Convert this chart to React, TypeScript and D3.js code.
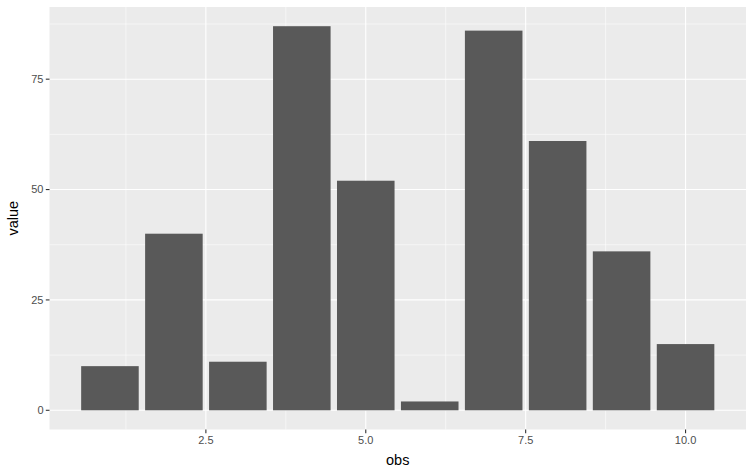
import React from "react";
import * as d3 from "d3";

const obs = [1, 2, 3, 4, 5, 6, 7, 8, 9, 10];
const values = [10, 40, 11, 87, 52, 2, 86, 61, 36, 15];
const xTicks = [2.5, 5.0, 7.5, 10.0];
const xMinor = [1.25, 3.75, 6.25, 8.75];
const yTicks = [0, 25, 50, 75];
const yMinor = [12.5, 37.5, 62.5, 87.5];

export default function App() {
  const W = 753, H = 469;
  const left = 49.5, right = 746, top = 7, bottom = 429.5;
  const barW = 0.9;
  const xlo = 1 - barW / 2, xhi = 10 + barW / 2;
  const xpad = (xhi - xlo) * 0.05;
  const x = d3.scaleLinear().domain([xlo - xpad, xhi + xpad]).range([left, right]);
  const ymax = d3.max(values) as number;
  const ypad = ymax * 0.05;
  const y = d3.scaleLinear().domain([-ypad, ymax + ypad]).range([bottom, top]);
  const font = "'Liberation Sans', Arial, Helvetica, sans-serif";
  return (
    <svg width={W} height={H} style={{ position: "absolute", left: 0, top: 0, background: "#fff" }}>
      <rect x={left} y={top} width={right - left} height={bottom - top} fill="#EBEBEB" />
      {yMinor.map((t) => (
        <line key={"ym" + t} x1={left} x2={right} y1={y(t)} y2={y(t)} stroke="#fff" strokeWidth={0.55} />
      ))}
      {xMinor.map((t) => (
        <line key={"xm" + t} y1={top} y2={bottom} x1={x(t)} x2={x(t)} stroke="#fff" strokeWidth={0.55} />
      ))}
      {yTicks.map((t) => (
        <line key={"yM" + t} x1={left} x2={right} y1={y(t)} y2={y(t)} stroke="#fff" strokeWidth={1.1} />
      ))}
      {xTicks.map((t) => (
        <line key={"xM" + t} y1={top} y2={bottom} x1={x(t)} x2={x(t)} stroke="#fff" strokeWidth={1.1} />
      ))}
      {obs.map((o, i) => (
        <rect
          key={"b" + o}
          x={x(o - barW / 2)}
          width={x(o + barW / 2) - x(o - barW / 2)}
          y={y(values[i])}
          height={y(0) - y(values[i])}
          fill="#595959"
        />
      ))}
      {yTicks.map((t) => (
        <g key={"yt" + t}>
          <line x1={left - 3.7} x2={left} y1={y(t)} y2={y(t)} stroke="#333" strokeWidth={1.1} />
          <text x={left - 6} y={y(t)} dy="0.35em" textAnchor="end" fontSize={11} fill="#4D4D4D" fontFamily={font}>
            {t}
          </text>
        </g>
      ))}
      {xTicks.map((t) => (
        <g key={"xt" + t}>
          <line y1={bottom} y2={bottom + 3.7} x1={x(t)} x2={x(t)} stroke="#333" strokeWidth={1.1} />
          <text x={x(t)} y={bottom + 6} dy="0.8em" textAnchor="middle" fontSize={11} fill="#4D4D4D" fontFamily={font}>
            {t.toFixed(1)}
          </text>
        </g>
      ))}
      <text x={(left + right) / 2} y={H - 4} textAnchor="middle" fontSize={14.5} fill="#000" fontFamily={font}>
        obs
      </text>
      <text
        transform={`translate(${18},${(top + bottom) / 2}) rotate(-90)`}
        textAnchor="middle"
        fontSize={14.5}
        fill="#000"
        fontFamily={font}
      >
        value
      </text>
    </svg>
  );
}
